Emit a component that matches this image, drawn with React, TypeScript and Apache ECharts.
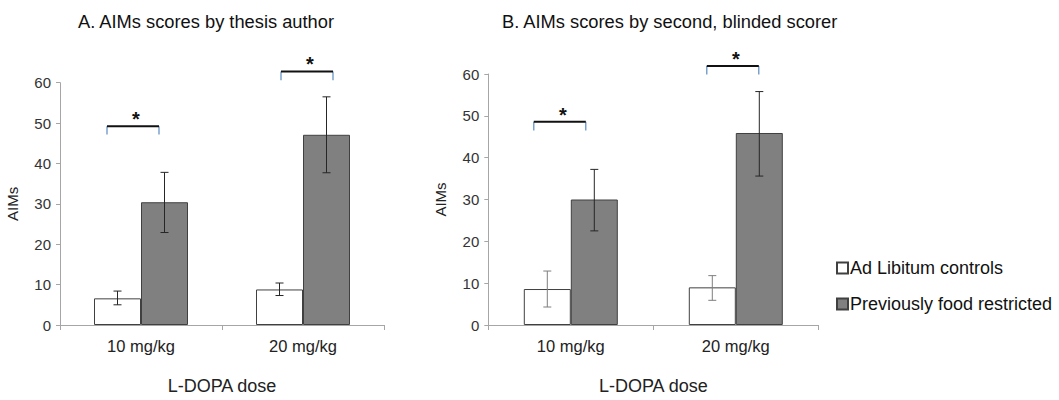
import React, { useEffect, useRef } from "react";
import * as echarts from "echarts";

const categories = ["10 mg/kg", "20 mg/kg"];
const seriesNames = ["Ad Libitum controls", "Previously food restricted"];
const yTicks = { min: 0, max: 60, interval: 10 };

// Panel A: AIMs scores by thesis author
const aAdLib = [6.6, 8.8];
const aAdLibErr = [[5.0, 8.4], [7.3, 10.4]];
const aFood = [30.4, 47.1];
const aFoodErr = [[22.9, 37.8], [37.7, 56.5]];
const aSig = [[0, 49.2, 47.2], [1, 62.8, 60.6]];

// Panel B: AIMs scores by second, blinded scorer
const bAdLib = [8.6, 9.0];
const bAdLibErr = [[4.3, 12.9], [5.9, 11.8]];
const bFood = [30.0, 45.9];
const bFoodErr = [[22.5, 37.2], [35.6, 55.8]];
const bSig = [[0, 48.6, 46.5], [1, 61.9, 59.9]];

const FONT = "'Liberation Sans', Arial, sans-serif";
const BAR_W = 47;
const sigShiftA = [-8, 4];
const sigShiftB = [-11, -3];

function errSeries(grid: number, data: number[][], side: number, color: string) {
  return {
    type: "custom",
    xAxisIndex: grid,
    yAxisIndex: grid,
    z: 5,
    silent: true,
    data: data.map((d, i) => [i, d[0], d[1]]),
    renderItem: (params: any, api: any) => {
      const lo = api.coord([api.value(0), api.value(1)]);
      const hi = api.coord([api.value(0), api.value(2)]);
      const x = lo[0] + side * (BAR_W / 2);
      const st = { stroke: color, lineWidth: 1 };
      return {
        type: "group",
        children: [
          { type: "line", shape: { x1: x, y1: lo[1], x2: x, y2: hi[1] }, style: st },
          { type: "line", shape: { x1: x - 4, y1: lo[1], x2: x + 4, y2: lo[1] }, style: st },
          { type: "line", shape: { x1: x - 4, y1: hi[1], x2: x + 4, y2: hi[1] }, style: st },
        ],
      };
    },
  };
}

function sigSeries(grid: number, data: number[][], shifts: number[]) {
  return {
    type: "custom",
    xAxisIndex: grid,
    yAxisIndex: grid,
    z: 6,
    silent: true,
    clip: false,
    data,
    renderItem: (params: any, api: any) => {
      const top = api.coord([api.value(0), api.value(1)]);
      const foot = api.coord([api.value(0), api.value(2)]);
      const c = top[0] + shifts[params.dataIndex];
      const x1 = c - 26;
      const x2 = c + 26;
      return {
        type: "group",
        children: [
          { type: "line", shape: { x1: x1, y1: foot[1], x2: x1, y2: top[1] }, style: { stroke: "#5b8bc0", lineWidth: 1.2 } },
          { type: "line", shape: { x1: x2, y1: foot[1], x2: x2, y2: top[1] }, style: { stroke: "#5b8bc0", lineWidth: 1.2 } },
          { type: "line", shape: { x1: x1, y1: top[1], x2: x2, y2: top[1] }, style: { stroke: "#111", lineWidth: 2 } },
          {
            type: "text",
            x: c + 3,
            y: top[1] - 7,
            style: { text: "*", fill: "#111", font: `bold 20px ${FONT}`, align: "center", verticalAlign: "middle" },
          },
        ],
      };
    },
  };
}

function axes(grid: number) {
  const axisLine = { show: true, lineStyle: { color: "#a6a6a6", width: 1 } };
  return {
    x: {
      type: "category",
      gridIndex: grid,
      data: categories,
      axisLine,
      axisTick: { show: true, length: 5, lineStyle: { color: "#a6a6a6" } },
      axisLabel: { color: "#222", fontSize: 16.5, fontFamily: FONT, margin: 12 },
      name: "L-DOPA dose",
      nameLocation: "middle",
      nameGap: 52,
      nameTextStyle: { color: "#222", fontSize: 18, fontFamily: FONT },
    },
    y: {
      type: "value",
      gridIndex: grid,
      min: yTicks.min,
      max: yTicks.max,
      interval: yTicks.interval,
      axisLine,
      axisTick: { show: true, length: 4, lineStyle: { color: "#a6a6a6" } },
      splitLine: { show: false },
      axisLabel: { color: "#333", fontSize: 15, fontFamily: FONT, margin: 9 },
      name: "AIMs",
      nameLocation: "middle",
      nameRotate: 90,
      nameGap: 40,
      nameTextStyle: { color: "#222", fontSize: 15, fontFamily: FONT },
    },
  };
}

export default function App() {
  const ref = useRef<HTMLDivElement>(null);
  useEffect(() => {
    if (!ref.current) return;
    const chart = echarts.init(ref.current, null, { renderer: "svg" });
    const ax0 = axes(0);
    const ax1 = axes(1);
    const whiteStyle = { color: "#ffffff", borderColor: "#404040", borderWidth: 1 };
    const grayStyle = { color: "#808080", borderColor: "#404040", borderWidth: 1 };
    chart.setOption({
      animation: false,
      backgroundColor: "#ffffff",
      title: [
        {
          text: "A. AIMs scores by thesis author",
          left: 201,
          textAlign: "center",
          top: 7,
          textStyle: { fontSize: 18.3, fontWeight: "normal", color: "#111", fontFamily: FONT },
        },
        {
          text: "B. AIMs scores by second, blinded scorer",
          left: 497,
          top: 7,
          textStyle: { fontSize: 18.3, fontWeight: "normal", color: "#111", fontFamily: FONT },
        },
      ],
      legend: {
        orient: "vertical",
        left: 836,
        top: 259,
        padding: 0,
        itemWidth: 11,
        itemHeight: 11,
        itemGap: 18,
        icon: "rect",
        data: seriesNames,
        textStyle: { fontSize: 18, color: "#111", fontFamily: FONT, padding: [0, 0, 0, -3] },
      },
      grid: [
        { left: 60, top: 82.7, width: 324, height: 246.6 },
        { left: 488.3, top: 74, width: 330, height: 252.3 },
      ],
      xAxis: [ax0.x, ax1.x],
      yAxis: [ax0.y, ax1.y],
      series: [
        { type: "bar", name: seriesNames[0], xAxisIndex: 0, yAxisIndex: 0, data: aAdLib, barWidth: BAR_W, barGap: "0%", itemStyle: whiteStyle },
        { type: "bar", name: seriesNames[1], xAxisIndex: 0, yAxisIndex: 0, data: aFood, barWidth: BAR_W, barGap: "0%", itemStyle: grayStyle },
        { type: "bar", name: seriesNames[0], xAxisIndex: 1, yAxisIndex: 1, data: bAdLib, barWidth: BAR_W, barGap: "0%", itemStyle: whiteStyle },
        { type: "bar", name: seriesNames[1], xAxisIndex: 1, yAxisIndex: 1, data: bFood, barWidth: BAR_W, barGap: "0%", itemStyle: grayStyle },
        errSeries(0, aAdLibErr, -1, "#262626"),
        errSeries(0, aFoodErr, 1, "#262626"),
        errSeries(1, bAdLibErr, -1, "#7f7f7f"),
        errSeries(1, bFoodErr, 1, "#262626"),
        sigSeries(0, aSig, sigShiftA),
        sigSeries(1, bSig, sigShiftB),
      ],
    });
    return () => chart.dispose();
  }, []);
  return <div ref={ref} style={{ position: "fixed", left: 0, top: 0, width: 1059, height: 400 }} />;
}
